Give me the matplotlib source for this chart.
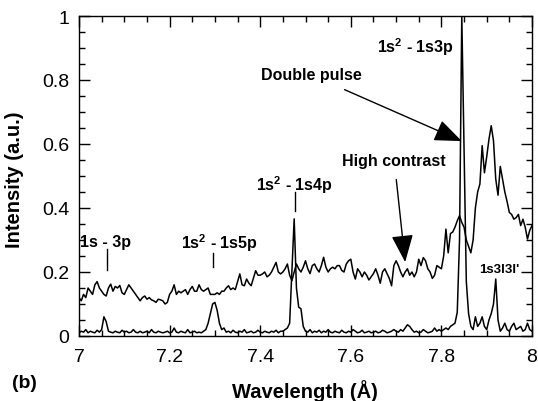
import numpy as np
import matplotlib
matplotlib.use("Agg")
import matplotlib.pyplot as plt
from matplotlib.ticker import MultipleLocator

plt.rcParams['font.family'] = ['Liberation Sans', 'DejaVu Sans']
plt.rcParams['mathtext.fontset'] = 'custom'
plt.rcParams['mathtext.rm'] = 'Liberation Sans'
plt.rcParams['mathtext.bf'] = 'Liberation Sans:bold'

# wavelength sampling (Å), 0.005 step from 7.0 to 8.0
wavelength = np.linspace(7.0, 8.0, 201)

high_contrast = [
    0.12, 0.11, 0.13, 0.12, 0.15, 0.14, 0.13, 0.16, 0.17, 0.15,
    0.14, 0.13, 0.125, 0.15, 0.162, 0.14, 0.155, 0.15, 0.158, 0.135,
    0.13, 0.145, 0.16, 0.15, 0.14, 0.13, 0.12, 0.11, 0.12, 0.125,
    0.115, 0.12, 0.113, 0.11, 0.105, 0.115, 0.113, 0.11, 0.10, 0.105,
    0.13, 0.14, 0.16, 0.13, 0.14, 0.135, 0.14, 0.145, 0.13, 0.145,
    0.155, 0.14, 0.14, 0.16, 0.145, 0.14, 0.145, 0.15, 0.13, 0.13,
    0.13, 0.135, 0.13, 0.14, 0.14, 0.15, 0.157, 0.145, 0.15, 0.145,
    0.17, 0.194, 0.16, 0.157, 0.178, 0.165, 0.157, 0.18, 0.204, 0.19,
    0.19, 0.194, 0.20, 0.185, 0.19, 0.20, 0.215, 0.23, 0.20, 0.194,
    0.20, 0.21, 0.225, 0.19, 0.173, 0.20, 0.225, 0.21, 0.20, 0.215,
    0.235, 0.21, 0.195, 0.22, 0.225, 0.21, 0.20, 0.22, 0.246, 0.215,
    0.20, 0.21, 0.215, 0.21, 0.22, 0.22, 0.205, 0.20, 0.225, 0.235,
    0.24, 0.20, 0.178, 0.21, 0.20, 0.185, 0.20, 0.19, 0.175, 0.185,
    0.195, 0.21, 0.19, 0.165, 0.20, 0.21, 0.195, 0.18, 0.157, 0.22,
    0.235, 0.22, 0.20, 0.185, 0.20, 0.21, 0.19, 0.20, 0.185, 0.20,
    0.24, 0.22, 0.245, 0.235, 0.21, 0.20, 0.18, 0.19, 0.22, 0.215,
    0.21, 0.25, 0.334, 0.26, 0.32, 0.325, 0.34, 0.36, 0.376, 0.355,
    0.34, 0.30, 0.28, 0.26, 0.30, 0.40, 0.45, 0.475, 0.595, 0.51,
    0.56, 0.615, 0.657, 0.61, 0.49, 0.44, 0.53, 0.49, 0.45, 0.42,
    0.386, 0.38, 0.365, 0.37, 0.38, 0.345, 0.365, 0.34, 0.303, 0.33,
    0.345,
]

double_pulse = [
    0.01, 0.015, 0.012, 0.02, 0.01, 0.015, 0.012, 0.01, 0.018, 0.012,
    0.02, 0.06, 0.045, 0.015, 0.012, 0.01, 0.015, 0.012, 0.01, 0.018,
    0.012, 0.015, 0.01, 0.012, 0.02, 0.012, 0.01, 0.015, 0.01, 0.012,
    0.015, 0.01, 0.02, 0.012, 0.01, 0.015, 0.012, 0.01, 0.012, 0.015,
    0.01, 0.012, 0.025, 0.012, 0.01, 0.015, 0.012, 0.01, 0.02, 0.01,
    0.012, 0.015, 0.01, 0.012, 0.01, 0.015, 0.02, 0.04, 0.07, 0.10,
    0.105, 0.08, 0.04, 0.02, 0.025, 0.012, 0.015, 0.01, 0.018, 0.012,
    0.01, 0.015, 0.012, 0.02, 0.01, 0.012, 0.015, 0.01, 0.012, 0.018,
    0.012, 0.01, 0.015, 0.012, 0.01, 0.015, 0.012, 0.018, 0.01, 0.015,
    0.015, 0.02, 0.025, 0.04, 0.20, 0.366, 0.15, 0.09, 0.085, 0.03,
    0.015, 0.012, 0.02, 0.01, 0.015, 0.012, 0.018, 0.01, 0.015, 0.012,
    0.02, 0.012, 0.01, 0.015, 0.012, 0.01, 0.018, 0.012, 0.01, 0.015,
    0.012, 0.02, 0.015, 0.01, 0.012, 0.018, 0.01, 0.012, 0.015, 0.01,
    0.012, 0.015, 0.01, 0.012, 0.018, 0.015, 0.01, 0.012, 0.015, 0.02,
    0.015, 0.012, 0.02, 0.015, 0.025, 0.035, 0.03, 0.02, 0.012, 0.015,
    0.01, 0.012, 0.02, 0.015, 0.01, 0.012, 0.015, 0.025, 0.015, 0.02,
    0.015, 0.02, 0.025, 0.02, 0.03, 0.035, 0.04, 0.074, 0.30, 1.0,
    0.58, 0.17, 0.07, 0.03, 0.02, 0.06, 0.03, 0.04, 0.06, 0.03,
    0.02, 0.05, 0.07, 0.10, 0.178, 0.05, 0.015, 0.025, 0.04, 0.02,
    0.015, 0.03, 0.04, 0.02, 0.025, 0.03, 0.015, 0.02, 0.04, 0.02,
    0.015,
]

# line identifications: (label, text x, text y)
line_labels = [r"1s - 3p", r"1s$^{\mathbf{2}}$ - 1s5p", r"1s$^{\mathbf{2}}$ - 1s4p",
               r"1s$^{\mathbf{2}}$ - 1s3p"]
line_label_x = [7.058, 7.309, 7.475, 7.742]
line_label_y = [0.294, 0.294, 0.475, 0.906]
marker_x = [7.062, 7.296, 7.477]
marker_y0 = [0.207, 0.215, 0.39]
marker_y1 = [0.272, 0.260, 0.45]

fig = plt.figure(figsize=(5.38, 4.02), dpi=100)
ax = fig.add_axes([79/538, 65/402, 453/538, 320/402])

ax.plot(wavelength, high_contrast, color='black', lw=1.1)
ax.plot(wavelength, double_pulse, color='black', lw=1.1)

ax.set_xlim(7, 8)
ax.set_ylim(0, 1)
ax.xaxis.set_minor_locator(MultipleLocator(0.05))
ax.yaxis.set_minor_locator(MultipleLocator(0.05))
ax.set_xticks([7, 7.2, 7.4, 7.6, 7.8, 8])
ax.set_xticklabels(['7', '7.2', '7.4', '7.6', '7.8', '8'])
ax.set_yticks([0, 0.2, 0.4, 0.6, 0.8, 1])
ax.set_yticklabels(['0', '0.2', '0.4', '0.6', '0.8', '1'])
ax.tick_params(which='both', direction='in', top=True, right=True, width=1.0)
ax.tick_params(which='major', length=8, labelsize=14)
ax.tick_params(axis='x', which='major', pad=9)
ax.tick_params(axis='y', which='major', pad=7)
ax.tick_params(which='minor', length=4.5)
for s in ax.spines.values():
    s.set_linewidth(1.0)

for lab, tx, ty in zip(line_labels, line_label_x, line_label_y):
    ax.text(tx, ty, lab, ha='center', va='center', fontsize=11.5, fontweight='bold')
for mx, y0, y1 in zip(marker_x, marker_y0, marker_y1):
    ax.plot([mx, mx], [y0, y1], color='black', lw=1.0)

ax.text(7.928, 0.209, "1s3l3l'", ha='center', va='center', fontsize=9.5, fontweight='bold')

ax.annotate("Double pulse", xy=(7.845, 0.609), xytext=(7.512, 0.816),
            ha='center', va='center', fontsize=11.5, fontweight='bold',
            arrowprops=dict(arrowstyle='-|>,head_length=1.0,head_width=0.4',
                            mutation_scale=17, color='black', lw=1.0,
                            shrinkA=8, shrinkB=0))
ax.annotate("High contrast", xy=(7.72, 0.231), xytext=(7.696, 0.547),
            ha='center', va='center', fontsize=11.5, fontweight='bold',
            arrowprops=dict(arrowstyle='-|>,head_length=1.0,head_width=0.4',
                            mutation_scale=17, color='black', lw=1.0,
                            shrinkA=6, shrinkB=0))

fig.text(305/538, 1 - 391/402, "Wavelength (Å)", ha='center', va='center',
         fontsize=14.5, fontweight='bold')
fig.text(15/538, 1 - 180/402, "Intensity (a.u.)", ha='center', va='center',
         rotation=90, fontsize=14.5, fontweight='bold')
fig.text(24/538, 1 - 384/402, "(b)", ha='center', va='center',
         fontsize=14, fontweight='bold')

fig.savefig("out.png", dpi=100)
